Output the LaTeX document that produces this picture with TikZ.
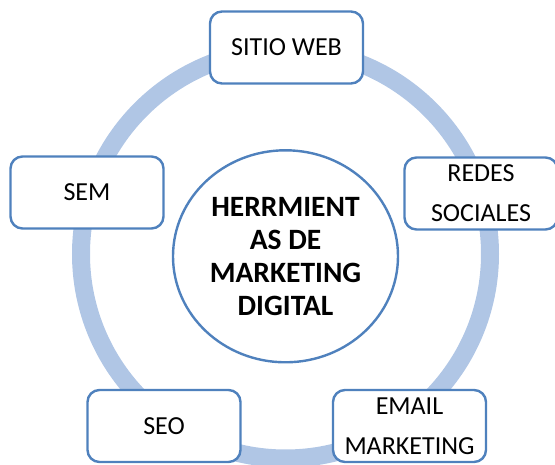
\documentclass[tikz,border=0pt]{standalone}
\usepackage{fontspec}
\setmainfont{Carlito}
\usepackage{xcolor}
\definecolor{ring_blue}{RGB}{176,198,229}
\definecolor{box_blue}{RGB}{79,129,189}
\usepackage{tikz}
\usetikzlibrary{shapes.geometric}

\tikzset{
  tool/.style = {draw = box_blue, line width = 2.4pt, fill = white, rounded corners = 12pt,
                 minimum width = 153pt, minimum height = 72pt, inner sep = 0pt, align = center,
                 font = \fontsize{26}{40}\selectfont},
  hub/.style  = {ellipse, draw = box_blue, line width = 2.4pt, fill = white,
                 minimum width = 225pt, minimum height = 212pt, inner sep = 0pt, align = center,
                 font = \fontsize{29.5}{33}\selectfont\bfseries}
}

\begin{document}
\begin{tikzpicture}[x = 1pt, y = -1pt]
\useasboundingbox (0, 0) rectangle (555, 465);
\clip (0, 0) rectangle (555, 465);

% the wide ring behind everything
\draw [line width = 18pt, draw = ring_blue] (285.5, 254) circle (204.5);

% centre
\node [hub] (hub) at (285.5, 256.3) {HERRMIENT\\AS DE\\MARKETING\\DIGITAL};

% the five tools round the ring
\node [tool] (web)   at (286.5, 47.5)  {SITIO WEB};
\node [tool] (redes) at (481, 193.5)   {REDES\\SOCIALES};
\node [tool] (email) at (409.5, 426)   {EMAIL\\MARKETING};
\node [tool] (seo)   at (164, 426)     {SEO};
\node [tool] (sem)   at (87, 192.5)    {SEM};

\end{tikzpicture}
\end{document}
